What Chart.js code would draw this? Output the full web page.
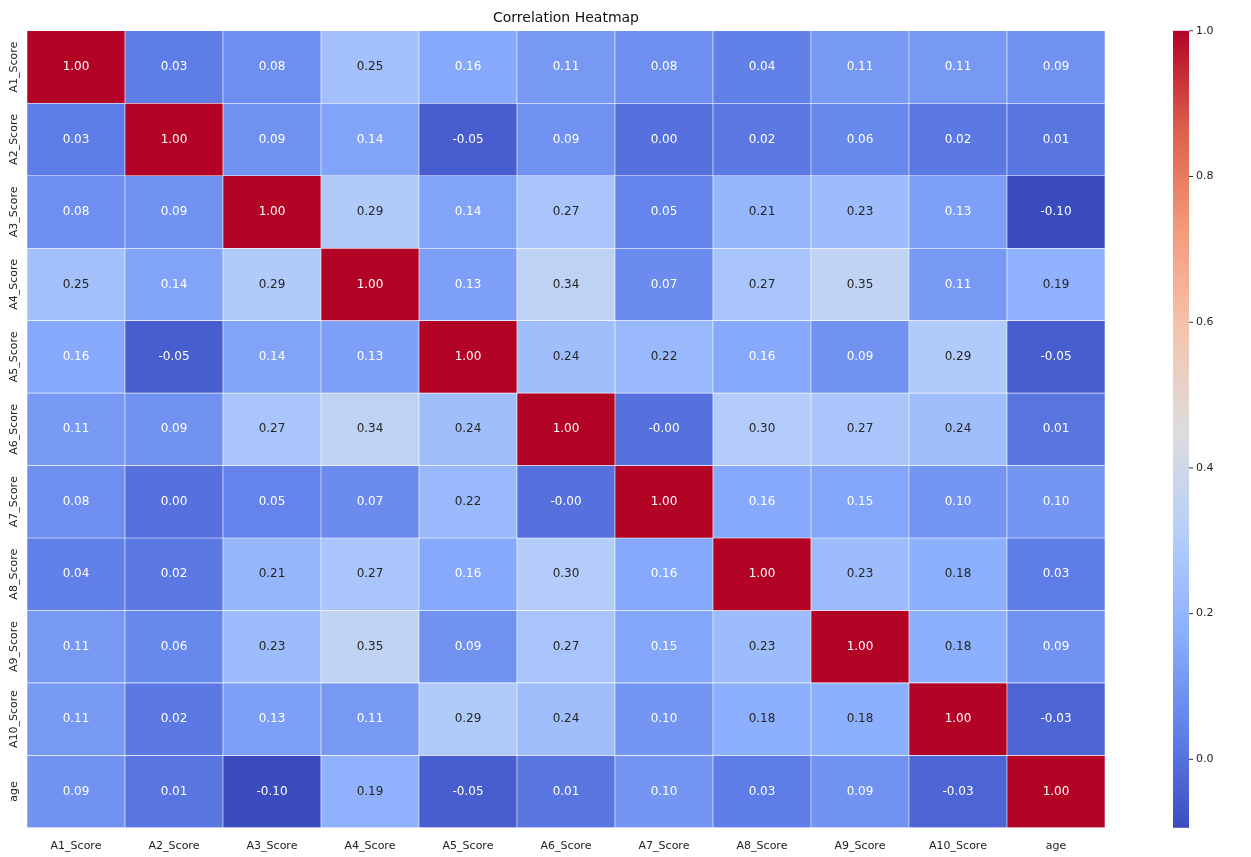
<!DOCTYPE html>
<html>
<head>
<meta charset="utf-8">
<script src="https://cdn.jsdelivr.net/npm/chart.js@4"></script>
<style>
  body { margin: 0; background: #fff; }
  canvas { display: block; }
</style>
</head>
<body>
<canvas id="heat" width="1251" height="857"></canvas>
<script>
const labels = ['A1_Score', 'A2_Score', 'A3_Score', 'A4_Score', 'A5_Score', 'A6_Score', 'A7_Score', 'A8_Score', 'A9_Score', 'A10_Score', 'age'];
const rowA1 = [1, 0.03, 0.08, 0.25, 0.16, 0.11, 0.08, 0.04, 0.11, 0.11, 0.09];
const rowA2 = [0.03, 1, 0.09, 0.14, -0.05, 0.09, 0.00, 0.02, 0.06, 0.02, 0.01];
const rowA3 = [0.08, 0.09, 1, 0.29, 0.14, 0.27, 0.05, 0.21, 0.23, 0.13, -0.10];
const rowA4 = [0.25, 0.14, 0.29, 1, 0.13, 0.34, 0.07, 0.27, 0.35, 0.11, 0.19];
const rowA5 = [0.16, -0.05, 0.14, 0.13, 1, 0.24, 0.22, 0.16, 0.09, 0.29, -0.05];
const rowA6 = [0.11, 0.09, 0.27, 0.34, 0.24, 1, -0.001, 0.30, 0.27, 0.24, 0.01];
const rowA7 = [0.08, 0.00, 0.05, 0.07, 0.22, -0.001, 1, 0.16, 0.15, 0.10, 0.10];
const rowA8 = [0.04, 0.02, 0.21, 0.27, 0.16, 0.30, 0.16, 1, 0.23, 0.18, 0.03];
const rowA9 = [0.11, 0.06, 0.23, 0.35, 0.09, 0.27, 0.15, 0.23, 1, 0.18, 0.09];
const rowA10 = [0.11, 0.02, 0.13, 0.11, 0.29, 0.24, 0.10, 0.18, 0.18, 1, -0.03];
const rowAge = [0.09, 0.01, -0.10, 0.19, -0.05, 0.01, 0.10, 0.03, 0.09, -0.03, 1];
const matrix = [rowA1, rowA2, rowA3, rowA4, rowA5, rowA6, rowA7, rowA8, rowA9, rowA10, rowAge];
const cbarTicks = [0.0, 0.2, 0.4, 0.6, 0.8, 1.0];

const vmin = -0.094, vmax = 1.0;
const stops = [
  [0, 59, 76, 192], [0.125, 98, 130, 234], [0.25, 141, 176, 254], [0.375, 184, 208, 249],
  [0.5, 221, 220, 220], [0.625, 245, 196, 173], [0.75, 244, 154, 123], [0.875, 222, 96, 77], [1, 180, 4, 38]
];
function cmap(t) {
  t = Math.max(0, Math.min(1, t));
  for (let i = 1; i < stops.length; i++) {
    if (t <= stops[i][0]) {
      const a = stops[i - 1], b = stops[i];
      const f = (t - a[0]) / (b[0] - a[0]);
      return [1, 2, 3].map(k => Math.round(a[k] + (b[k] - a[k]) * f));
    }
  }
  return stops[stops.length - 1].slice(1);
}
const norm = v => (v - vmin) / (vmax - vmin);
const rgb = c => `rgb(${c[0]},${c[1]},${c[2]})`;
function lum(c) {
  const l = c.map(x => { x /= 255; return x <= 0.03928 ? x / 12.92 : Math.pow((x + 0.055) / 1.055, 2.4); });
  return 0.2126 * l[0] + 0.7152 * l[1] + 0.0722 * l[2];
}

const datasets = matrix.map((row, r) => ({
  data: row.map(() => [r, r + 1]),
  values: row,
  backgroundColor: row.map(v => rgb(cmap(norm(v)))),
  borderColor: '#fff',
  borderWidth: 0.6,
  borderSkipped: false,
  grouped: false,
  barPercentage: 1,
  categoryPercentage: 1
}));

const heatPlugin = {
  id: 'heatText',
  afterDatasetsDraw(chart) {
    const ctx = chart.ctx;
    const area = chart.chartArea;
    const ys = chart.scales.y;
    ctx.save();
    ctx.font = '12px "DejaVu Sans"';
    ctx.textAlign = 'center';
    ctx.textBaseline = 'middle';
    chart.data.datasets.forEach((ds, r) => {
      const meta = chart.getDatasetMeta(r);
      meta.data.forEach((bar, c) => {
        const v = ds.values[c];
        ctx.fillStyle = lum(cmap(norm(v))) > 0.408 ? '#262626' : '#fff';
        ctx.fillText(v.toFixed(2), bar.x, ys.getPixelForValue(r + 0.5));
      });
    });
    // row labels, rotated
    ctx.fillStyle = '#222';
    ctx.font = '11px "DejaVu Sans"';
    labels.forEach((l, r) => {
      ctx.save();
      ctx.translate(14, ys.getPixelForValue(r + 0.5));
      ctx.rotate(-Math.PI / 2);
      ctx.fillText(l, 0, 0);
      ctx.restore();
    });
    // colorbar
    const cx = 1173, cw = 16, top = area.top, bot = area.bottom;
    const g = ctx.createLinearGradient(0, bot, 0, top);
    for (let i = 0; i <= 40; i++) g.addColorStop(i / 40, rgb(cmap(i / 40)));
    ctx.fillStyle = g;
    ctx.fillRect(cx, top, cw, bot - top);
    ctx.strokeStyle = '#333';
    ctx.textAlign = 'left';
    ctx.fillStyle = '#222';
    cbarTicks.forEach(t => {
      const y = bot - norm(t) * (bot - top);
      ctx.beginPath();
      ctx.moveTo(cx + cw, y);
      ctx.lineTo(cx + cw + 4, y);
      ctx.stroke();
      ctx.fillText(t.toFixed(1), cx + cw + 7, y);
    });
    ctx.restore();
  }
};

new Chart(document.getElementById('heat'), {
  type: 'bar',
  data: { labels: labels, datasets: datasets },
  plugins: [heatPlugin],
  options: {
    responsive: false,
    animation: false,
    layout: { padding: { left: 27, right: 146, top: 0, bottom: 0 } },
    plugins: {
      legend: { display: false },
      tooltip: { enabled: false },
      title: {
        display: true, text: 'Correlation Heatmap', color: '#111',
        font: { family: 'DejaVu Sans', size: 14, weight: 'normal' },
        padding: { top: 10, bottom: 4 }
      }
    },
    scales: {
      x: {
        grid: { display: false },
        border: { display: false },
        ticks: { color: '#222', font: { family: 'DejaVu Sans', size: 11 }, maxRotation: 0, padding: 4 }
      },
      y: {
        display: false, min: 0, max: 11, reverse: true
      }
    }
  }
});
</script>
</body>
</html>
